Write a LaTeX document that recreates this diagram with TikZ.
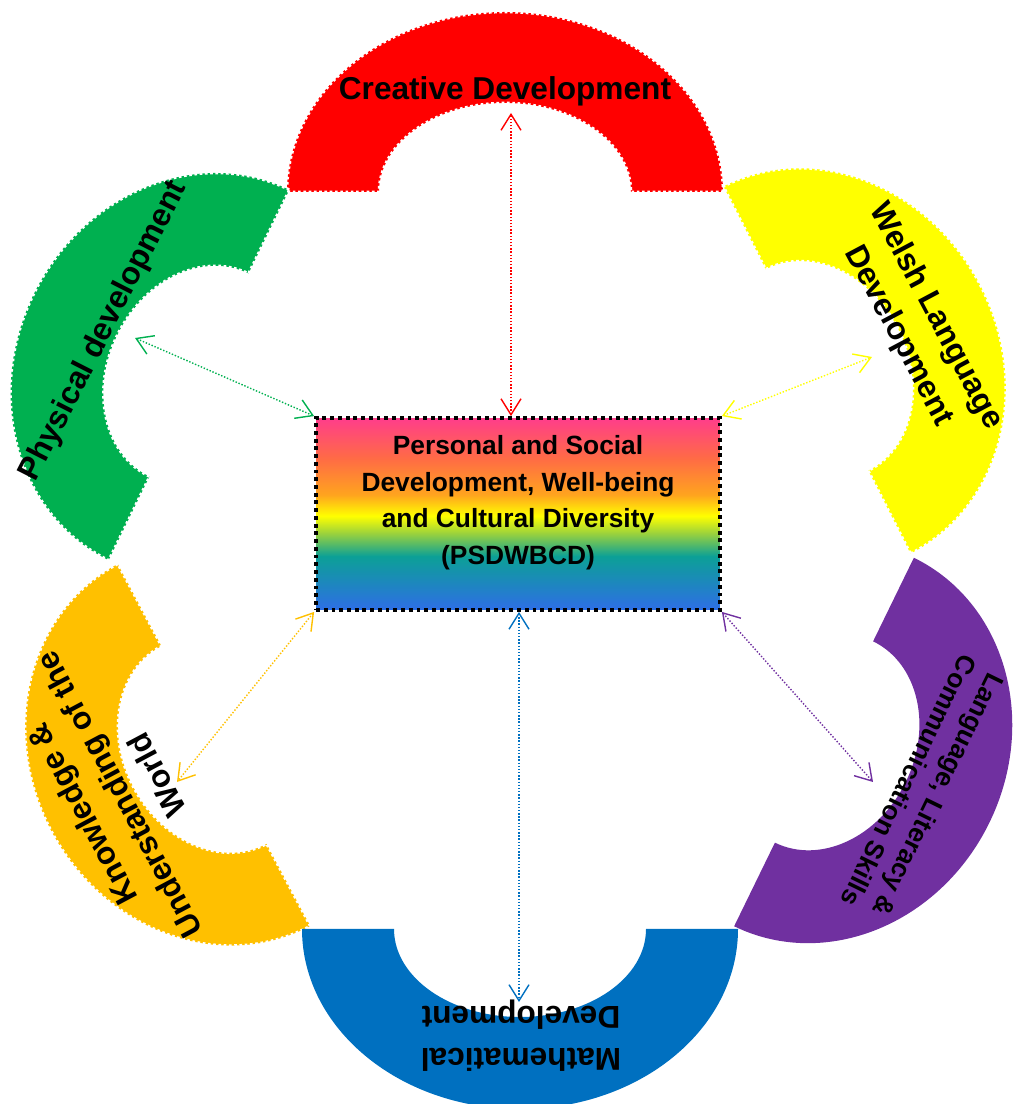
\documentclass[tikz,border=0pt]{standalone}
\usepackage{fontspec}
\setmainfont{Liberation Sans}
\usetikzlibrary{arrows.meta}
\definecolor{cdred}{HTML}{FF0000}
\definecolor{pdgreen}{HTML}{00B050}
\definecolor{wlyellow}{HTML}{FFFF00}
\definecolor{kuorange}{HTML}{FFC000}
\definecolor{llpurple}{HTML}{7030A0}
\definecolor{mdblue}{HTML}{0070C0}
\definecolor{rbpink}{HTML}{FF3D8B}
\definecolor{rbcoral}{HTML}{FF6B45}
\definecolor{rborange}{HTML}{FFA41E}
\definecolor{rbyellow}{HTML}{FFFF00}
\definecolor{rblime}{HTML}{9BD23C}
\definecolor{rbteal}{HTML}{0CA096}
\definecolor{rbblue}{HTML}{2E6EE6}
\pgfdeclareverticalshading{rainbow}{100bp}{color(0bp)=(rbblue); color(25bp)=(rbblue); color(39bp)=(rbteal); color(45bp)=(rblime); color(49.5bp)=(rbyellow); color(55bp)=(rborange); color(64.5bp)=(rbcoral); color(75bp)=(rbpink); color(100bp)=(rbpink)}
\tikzstyle{rim} = [draw=white, line width=1.5pt, dash pattern=on 1.5pt off 1.5pt]
\tikzstyle{area} = [font=\fontsize{18}{24}\selectfont\bfseries, align=center, inner sep=0pt, text=black]
\tikzstyle{areasmall} = [area, font=\fontsize{15}{18.7}\selectfont\bfseries]
\tikzstyle{core} = [rectangle, minimum width=8.08cm, minimum height=3.84cm, shade, shading=rainbow, draw=black, line width=2.2pt, dash pattern=on 2.2pt off 2.2pt, align=center, text depth=16pt, font=\fontsize{15}{20.7}\selectfont\bfseries]
\tikzstyle{link} = [line width=0.8pt, dash pattern=on 0.8pt off 1pt, {Straight Barb[length=3.2mm,width=4mm]}-{Straight Barb[length=3.2mm,width=4mm]}]

\begin{document}
\begin{tikzpicture}[x=0.02cm, y=0.02cm]
    \useasboundingbox (0,0) rectangle (1012,1104);

    % the six block arcs
    \path [fill=cdred, rim, shift={(505,912)}] (218,0) arc [start angle=0, end angle=180, x radius=218, y radius=180] -- (-126,0) arc [start angle=180, end angle=0, x radius=126, y radius=89] -- cycle;
    \path [fill=pdgreen, rim, shift={(199,729)}, rotate=64] (206,0) arc [start angle=0, end angle=180, x radius=206, y radius=184] -- (-113,0) arc [start angle=180, end angle=0, x radius=113, y radius=91] -- cycle;
    \path [fill=wlyellow, rim, shift={(817,734)}, rotate=-63] (206,0) arc [start angle=0, end angle=180, x radius=206, y radius=184] -- (-113,0) arc [start angle=180, end angle=0, x radius=113, y radius=91] -- cycle;
    \path [fill=kuorange, rim, shift={(214,359)}, rotate=118] (205,0) arc [start angle=0, end angle=180, x radius=205, y radius=184] -- (-112,0) arc [start angle=180, end angle=0, x radius=112, y radius=91] -- cycle;
    \fill [llpurple, shift={(824,362)}, rotate=-116] (205,0) arc [start angle=0, end angle=180, x radius=205, y radius=184] -- (-112,0) arc [start angle=180, end angle=0, x radius=112, y radius=91] -- cycle;
    \fill [mdblue, shift={(520,175)}, rotate=180] (218,0) arc [start angle=0, end angle=180, x radius=218, y radius=180] -- (-126,0) arc [start angle=180, end angle=0, x radius=126, y radius=88] -- cycle;

    \node (psd) [core] at (518,590) {Personal and Social\\Development, Well-being\\and Cultural Diversity\\(PSDWBCD)};

    \coordinate (cdtip) at (511,991);
    \coordinate (pdtip) at (135,766);
    \coordinate (wltip) at (872,747);
    \coordinate (kutip) at (177,322);
    \coordinate (lltip) at (873,322);
    \coordinate (mdtip) at (519,102);

    \draw [link, cdred] (cdtip |- psd.north) -- (cdtip);
    \draw [link, pdgreen] (psd.north west) -- (pdtip);
    \draw [link, wlyellow] (psd.north east) -- (wltip);
    \draw [link, kuorange] (psd.south west) -- (kutip);
    \draw [link, llpurple] (psd.south east) -- (lltip);
    \draw [link, mdblue] (mdtip |- psd.south) -- (mdtip);

    \node (cdtext) [area, anchor=base] at (505,1004) {Creative Development};
    \node (pdtext) [area, rotate=63] at (104,773) {Physical development};
    \node (wltext) [area, rotate=-62] at (917,778) {Welsh Language\\Development};
    \node (kutext) [area, rotate=118] at (119,309) {Knowledge \&\\Understanding of the\\World};
    \node (lltext) [areasmall, rotate=-116] at (924,316) {Language, Literacy \&\\Communication Skills};
    \node (mdtext) [area, rotate=180] at (521,68) {Mathematical\\Development};

\end{tikzpicture}
\end{document}
